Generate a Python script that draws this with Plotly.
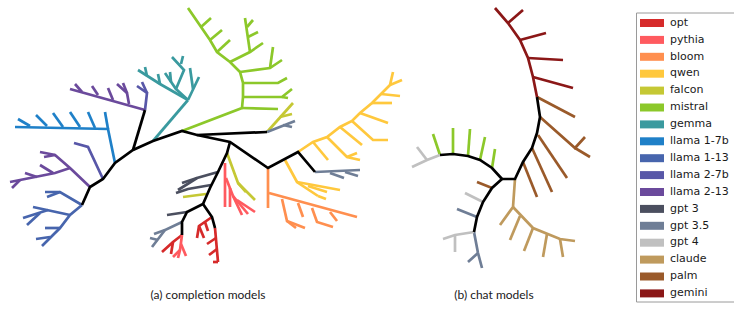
import plotly.graph_objects as go

# ---- legend categories and colours ----
model_names = ["opt", "pythia", "bloom", "qwen", "falcon", "mistral", "gemma",
               "llama 1-7b", "llama 1-13", "llama 2-7b", "llama 2-13",
               "gpt 3", "gpt 3.5", "gpt 4", "claude", "palm", "gemini"]
model_colors = ["#d62a2a", "#ff5a5f", "#ff8f4f", "#ffc83d", "#c5c834", "#8cc82a", "#3a9a9f",
                "#1f80c8", "#4765ad", "#5857a8", "#6b4a9c",
                "#4b4f5f", "#6f7e96", "#c0c0c0", "#bf9a5d", "#9a5a2a", "#8b1717"]

# ---- tree branches (polylines, pixel space) ----
backbone_paths = [
    [(82, 205), (90, 187), (103, 179), (115, 163), (133, 150), (153, 141), (182, 131), (197, 135), (267, 132)],
    [(133, 150), (145, 110)],
    [(197, 135), (230, 142), (268, 168), (298, 152), (315, 172)],
    [(230, 142), (227, 153), (218, 172), (210, 188), (203, 204), (187, 212), (182, 222), (182, 235)],
    [(203, 204), (212, 217), (215, 228)],
    # chat models
    [(537, 97), (540, 117), (537, 133), (532, 148), (523, 162), (515, 179), (502, 179)],
    [(502, 179), (492, 168), (480, 160), (468, 156), (453, 154), (440, 155)],
    [(502, 179), (492, 188), (483, 202), (477, 217), (474, 232)],
]
opt_paths = [
    [(182, 235), (173, 242), (162, 252)], [(173, 242), (171, 254)],
    [(212, 217), (199, 226), (197, 238)], [(199, 226), (204, 238)], [(205, 222), (208, 231)],
    [(215, 228), (218, 262)], [(216, 238), (207, 244)], [(217, 249), (209, 255)], [(218, 262), (213, 262)],
]
pythia_paths = [
    [(182, 235), (180, 250), (178, 258)], [(180, 250), (173, 257)], [(181, 244), (186, 256)],
    [(225, 163), (225, 207)], [(226, 178), (233, 196), (242, 215)], [(233, 196), (248, 214)],
    [(230, 188), (230, 207)], [(237, 200), (255, 212)],
]
bloom_paths = [
    [(268, 168), (268, 208)], [(269, 193), (357, 217)],
    [(282, 199), (287, 221), (305, 228)], [(287, 221), (296, 228)],
    [(298, 203), (303, 217)], [(312, 208), (317, 222), (333, 227)], [(330, 212), (337, 221)],
]
qwen_paths = [
    [(298, 152), (313, 142), (327, 137), (340, 127), (352, 121), (360, 113), (372, 103), (390, 85), (393, 72)],
    [(313, 142), (328, 160)], [(327, 137), (347, 157), (360, 160)], [(347, 157), (357, 153)],
    [(340, 127), (362, 145)], [(352, 121), (373, 140), (388, 140)], [(360, 113), (388, 123)],
    [(372, 103), (392, 103)], [(381, 94), (400, 96)], [(390, 85), (402, 80)],
    [(285, 160), (297, 182), (318, 196)], [(297, 182), (340, 190)], [(308, 186), (327, 192)], [(318, 196), (326, 199)],
]
falcon_paths = [
    [(267, 132), (293, 103)], [(280, 117), (292, 114)],
    [(227, 153), (238, 183), (255, 200)], [(238, 183), (246, 192)],
    [(206, 194), (183, 197)],
]
mistral_paths = [
    [(182, 131), (242, 108), (243, 97), (243, 83), (240, 72), (230, 62), (217, 52), (210, 40), (188, 8)],
    [(242, 108), (278, 109)], [(243, 97), (282, 97), (292, 89)], [(282, 97), (288, 98)],
    [(243, 83), (278, 83), (287, 78)], [(240, 72), (270, 68), (282, 60)], [(270, 68), (273, 47)],
    [(230, 62), (250, 52), (263, 43)], [(250, 52), (245, 18)], [(248, 37), (258, 32)], [(247, 27), (253, 20)],
    [(217, 52), (230, 40)], [(210, 40), (222, 30)], [(201, 27), (211, 18)],
    # chat models
    [(440, 155), (433, 134)], [(453, 154), (453, 128)], [(468, 156), (470, 129)],
    [(480, 160), (485, 137)], [(492, 168), (495, 149)],
]
gemma_paths = [
    [(153, 141), (188, 100)], [(188, 100), (160, 84), (138, 70)], [(147, 76), (145, 67)], [(160, 84), (158, 74)],
    [(188, 100), (176, 89), (165, 73)], [(171, 82), (170, 72)],
    [(176, 89), (184, 70), (172, 57)], [(181, 64), (183, 56)],
    [(188, 100), (199, 77)], [(193, 89), (190, 68)],
]
llama17_paths = [
    [(115, 163), (108, 129), (15, 127)], [(108, 129), (105, 112)],
    [(30, 126), (18, 119)], [(47, 126), (36, 115)], [(63, 127), (53, 113)],
    [(80, 127), (70, 112)], [(95, 128), (88, 112)],
]
llama113_paths = [
    [(82, 205), (70, 215), (60, 228), (42, 246)], [(82, 205), (60, 192), (45, 192)], [(60, 192), (47, 197)],
    [(70, 215), (48, 210), (33, 207)], [(48, 210), (23, 218)], [(40, 213), (27, 225)],
    [(60, 228), (45, 228)], [(50, 237), (36, 239)],
]
llama27_paths = [
    [(145, 110), (147, 93), (137, 86)], [(147, 93), (142, 82)],
    [(103, 179), (88, 147), (74, 143)],
]
llama213_paths = [
    [(145, 110), (70, 89)], [(82, 92), (75, 84)], [(98, 95), (92, 86)], [(113, 100), (108, 88)],
    [(129, 104), (127, 93), (117, 84)], [(127, 93), (123, 83)],
    [(90, 187), (70, 168), (55, 155), (40, 152)], [(55, 155), (44, 157)],
    [(70, 168), (55, 173), (10, 182)], [(53, 173), (40, 165)], [(37, 177), (25, 173)], [(20, 180), (12, 188)],
]
gpt3_paths = [
    [(218, 172), (197, 178), (178, 190)], [(197, 178), (182, 183)],
    [(211, 185), (188, 189), (176, 193)],
    [(187, 212), (167, 215)],
]
gpt35_paths = [
    [(267, 132), (295, 121)], [(283, 125), (292, 127)],
    [(315, 172), (360, 170)], [(330, 173), (344, 178)], [(345, 172), (358, 176)],
    [(182, 222), (165, 230), (152, 247)], [(165, 230), (154, 234)], [(158, 240), (150, 238)],
    # chat models
    [(477, 217), (457, 209)], [(474, 232), (478, 253), (482, 268)], [(478, 253), (468, 262)],
]
gpt4_paths = [
    [(440, 155), (427, 160), (412, 167)], [(427, 160), (417, 147)],
    [(483, 202), (465, 193)], [(474, 232), (455, 235), (443, 239)], [(455, 235), (455, 252)],
]
claude_paths = [
    [(515, 179), (513, 207), (500, 225)], [(513, 207), (533, 228), (560, 239), (575, 241)],
    [(520, 216), (510, 240)], [(533, 228), (524, 251)], [(547, 234), (543, 257)], [(560, 239), (563, 257)],
]
palm_paths = [
    [(537, 97), (575, 117)], [(540, 117), (575, 148), (585, 137)], [(575, 148), (590, 157)],
    [(538, 135), (567, 178)], [(532, 148), (552, 192)], [(523, 162), (537, 197)], [(492, 188), (477, 182)],
]
gemini_paths = [
    [(495, 8), (508, 23), (520, 40), (528, 58), (533, 77), (537, 97)],
    [(508, 23), (523, 10)], [(520, 40), (546, 33)], [(528, 58), (563, 60)], [(533, 77), (573, 88)],
]

captions = ["(a) completion models", "(b) chat models"]
caption_x = [208, 494]

group_paths = {
    "opt": opt_paths, "pythia": pythia_paths, "bloom": bloom_paths, "qwen": qwen_paths,
    "falcon": falcon_paths, "mistral": mistral_paths, "gemma": gemma_paths,
    "llama 1-7b": llama17_paths, "llama 1-13": llama113_paths, "llama 2-7b": llama27_paths,
    "llama 2-13": llama213_paths, "gpt 3": gpt3_paths, "gpt 3.5": gpt35_paths, "gpt 4": gpt4_paths,
    "claude": claude_paths, "palm": palm_paths, "gemini": gemini_paths,
}


def flatten(paths):
    xs, ys = [], []
    for p in paths:
        for (x, y) in p:
            xs.append(x)
            ys.append(y)
        xs.append(None)
        ys.append(None)
    return xs, ys


fig = go.Figure()
color_of = dict(zip(model_names, model_colors))
for name in model_names:
    xs, ys = flatten(group_paths[name])
    fig.add_trace(go.Scatter(x=xs, y=ys, mode="lines", name=name, showlegend=False,
                             line=dict(color=color_of[name], width=2.7), hoverinfo="skip"))
bx, by = flatten(backbone_paths)
fig.add_trace(go.Scatter(x=bx, y=by, mode="lines", showlegend=False,
                         line=dict(color="#000000", width=2.7), hoverinfo="skip"))

# legend (matplotlib-style box with patches)
legend_step = 16.9
legend_y = [23 + legend_step * i for i in range(len(model_names))]
shapes = [dict(type="rect", xref="x", yref="y", x0=636.5, x1=740, y0=13, y1=302,
               line=dict(color="#9a9a9a", width=1), fillcolor="white", layer="below")]
for yc, col in zip(legend_y, model_colors):
    shapes.append(dict(type="rect", xref="x", yref="y", x0=640, x1=664, y0=yc - 4, y1=yc + 4,
                       line=dict(width=0), fillcolor=col))
fig.add_trace(go.Scatter(x=[670] * len(model_names), y=legend_y, mode="text", text=model_names,
                         textposition="middle right", showlegend=False, hoverinfo="skip",
                         cliponaxis=False,
                         textfont=dict(family="DejaVu Sans", size=11, color="#1a1a1a")))
fig.add_trace(go.Scatter(x=caption_x, y=[296, 296], mode="text", text=captions,
                         textposition="middle center", showlegend=False, hoverinfo="skip",
                         cliponaxis=False,
                         textfont=dict(family="Lato", size=12, color="#1a1a1a")))

fig.update_layout(
    width=734, height=309, margin=dict(l=0, r=0, t=0, b=0),
    paper_bgcolor="white", plot_bgcolor="white",
    xaxis=dict(range=[0, 734], visible=False, fixedrange=True),
    yaxis=dict(range=[309, 0], visible=False, fixedrange=True),
    shapes=shapes,
)
fig.write_html("out.html", config={"displayModeBar": False},
               post_script="document.body.style.margin='0';document.body.style.overflow='hidden';")
